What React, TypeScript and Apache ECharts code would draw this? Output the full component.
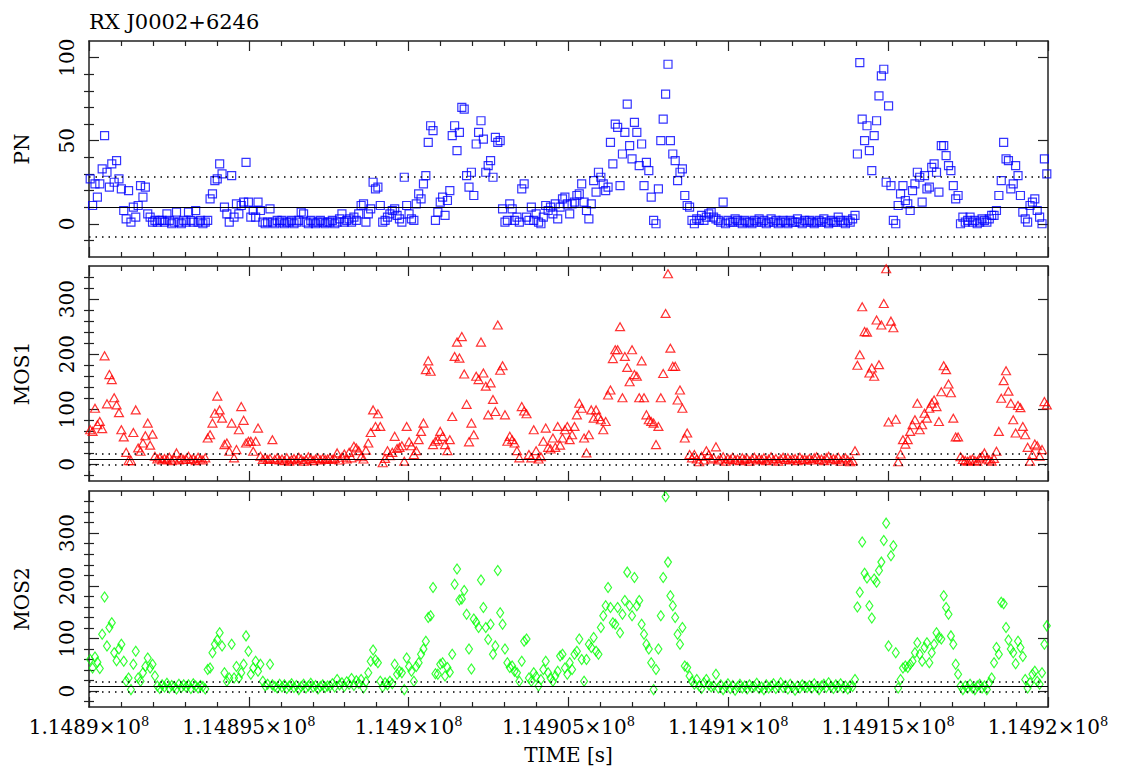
import React, { useEffect, useRef } from 'react';
import * as echarts from 'echarts';

const TITLE = 'RX J0002+6246';
const X_NAME = 'TIME [s]';
const BIN_SECONDS = 75;
const T_SPAN = 30000;
const X_INTERVAL = 5000;
const xTickLabels = ['1.1489', '1.14895', '1.149', '1.14905', '1.1491', '1.14915', '1.1492'];
const X_EXPONENT = '8';

const panelNames = ['PN', 'MOS1', 'MOS2'];
const colors = ['#0000ff', '#ff0000', '#00ff00'];
const yMins = [-20, -30, -30];
const yMaxs = [110, 360, 380];
const yMajorTicks = [
  [0, 50, 100],
  [0, 100, 200, 300],
  [0, 100, 200, 300],
];
const yMinorTicks = [
  [-10, 10, 20, 30, 40, 60, 70, 80, 90],
  [-20, 20, 40, 60, 80, 120, 140, 160, 180, 220, 240, 260, 280, 320, 340],
  [-20, 20, 40, 60, 80, 120, 140, 160, 180, 220, 240, 260, 280, 320, 340, 360],
];
// mean, upper, lower reference levels
const pnLevels = [10, 28, -8];
const mos1Levels = [10, 20, 0];
const mos2Levels = [8.5, 18.5, -1.5];

const pnRate = [
  27, 11, 24, 16, 24, 33, 53, 31, 22, 36, 25, 38, 27, 21, 8, 3, 20, 1, 10, 4,
  11, 23, 16, 22, 6, 4, 1, 2, 1, 2, 2, 1, 6, 2, 0, 1, 7, 1, 0, 2,
  1, 7, 2, 1, 8, 1, 2, 0, 1, 2, 15, 18, 26, 27, 36, 30, 10, 6, 1, 29,
  4, 12, 6, 11, 13, 37, 13, 4, 8, 4, 13, 8, 1, 0, 1, 9, 1, 0, 2, 1,
  2, 0, 1, 1, 2, 0, 1, 2, 7, 6, 1, 0, 2, 1, 0, 1, 2, 1, 0, 1,
  1, 2, 0, 1, 3, 6, 1, 2, 3, 1, 4, 2, 6, 11, 12, 1, 6, 9, 25, 21,
  22, 11, 1, 2, 4, 6, 8, 9, 5, 3, 1, 28, 11, 6, 3, 2, 12, 18, 15, 24,
  29, 49, 59, 56, 2, 7, 13, 16, 5, 14, 20, 53, 59, 44, 55, 70, 69, 29, 22, 31,
  17, 48, 55, 62, 51, 31, 35, 38, 28, 52, 49, 50, 9, 1, 2, 12, 9, 2, 4, 1,
  21, 24, 4, 2, 10, 2, 6, 1, 0, 4, 11, 8, 10, 6, 12, 3, 10, 15, 16, 12,
  6, 12, 13, 17, 18, 24, 13, 8, 3, 12, 26, 19, 31, 28, 24, 20, 22, 49, 36, 60,
  58, 23, 42, 55, 72, 47, 39, 61, 55, 35, 48, 23, 37, 32, 16, 2, 0, 21, 50, 63,
  78, 96, 50, 42, 38, 26, 31, 33, 17, 11, 10, 2, 0, 3, 2, 5, 2, 4, 6, 7,
  4, 3, 2, 1, 13, 0, 2, 1, 1, 3, 2, 1, 0, 2, 1, 1, 0, 2, 1, 3,
  1, 2, 0, 1, 3, 1, 2, 0, 1, 2, 1, 0, 2, 1, 1, 3, 1, 0, 2, 1,
  2, 1, 0, 1, 2, 1, 3, 1, 0, 2, 1, 1, 4, 2, 1, 0, 2, 1, 3, 5,
  42, 97, 63, 50, 59, 44, 32, 53, 62, 77, 89, 93, 25, 71, 23, 2, 0, 11, 18, 23,
  14, 12, 8, 20, 24, 31, 28, 13, 29, 21, 22, 34, 36, 31, 19, 47, 47, 41, 35, 32,
  23, 15, 17, 0, 4, 1, 2, 4, 1, 2, 0, 1, 3, 2, 1, 3, 5, 5, 8, 17,
  26, 49, 39, 38, 21, 24, 35, 29, 17, 7, 3, 1, 11, 13, 15, 8, 4, 0, 39, 30,
];

const mos1Rate = [
  63, 60, 102, 72, 78, 65, 197, 110, 163, 154, 121, 108, 94, 63, 50, 22, 7, 7, 58, 99,
  30, 24, 39, 52, 75, 35, 55, 15, 10, 12, 8, 11, 9, 13, 7, 10, 21, 8, 12, 9,
  10, 15, 9, 11, 7, 13, 10, 8, 12, 48, 54, 75, 93, 124, 99, 84, 36, 39, 24, 75,
  12, 27, 63, 105, 80, 39, 42, 42, 24, 42, 66, 15, 9, 12, 9, 11, 45, 9, 12, 8,
  10, 7, 12, 6, 9, 11, 8, 13, 10, 6, 9, 14, 11, 7, 10, 12, 8, 11, 9, 10,
  12, 9, 11, 21, 8, 13, 19, 10, 22, 12, 33, 30, 25, 14, 10, 26, 39, 58, 99, 69,
  92, 69, 3, 11, 25, 16, 22, 51, 29, 31, 34, 6, 69, 41, 34, 18, 25, 45, 60, 75,
  172, 188, 169, 36, 42, 45, 60, 51, 36, 25, 45, 87, 196, 222, 193, 232, 164, 109, 41, 75,
  54, 160, 154, 222, 166, 142, 90, 148, 118, 96, 253, 171, 179, 90, 42, 51, 45, 39, 25, 12,
  105, 97, 92, 18, 12, 63, 25, 10, 14, 42, 66, 31, 28, 48, 31, 69, 35, 48, 63, 69,
  45, 54, 69, 90, 111, 102, 48, 21, 54, 99, 84, 99, 87, 81, 63, 78, 126, 135, 192, 208,
  208, 250, 121, 196, 176, 150, 208, 163, 160, 121, 188, 121, 90, 81, 78, 75, 36, 69, 121, 165,
  274, 346, 211, 178, 178, 117, 135, 102, 48, 57, 18, 12, 18, 10, 5, 15, 8, 25, 18, 10,
  12, 32, 8, 10, 14, 6, 11, 9, 13, 8, 10, 7, 12, 9, 11, 6, 10, 13, 8, 11,
  9, 12, 7, 10, 14, 8, 11, 6, 10, 13, 9, 12, 8, 10, 11, 7, 13, 9, 10, 8,
  11, 8, 12, 14, 9, 10, 7, 12, 15, 8, 11, 9, 13, 6, 10, 12, 8, 5, 7, 25,
  180, 199, 286, 241, 240, 166, 175, 160, 262, 181, 253, 292, 355, 77, 260, 248, 82, 5, 19, 45,
  37, 45, 60, 72, 81, 111, 63, 72, 93, 84, 102, 111, 117, 105, 78, 132, 179, 172, 146, 130,
  84, 50, 50, 14, 9, 7, 6, 8, 10, 7, 6, 12, 15, 21, 10, 8, 6, 11, 24, 60,
  120, 152, 170, 133, 111, 81, 57, 107, 103, 69, 54, 31, 6, 18, 37, 34, 15, 27, 114, 108,
];

const mos2Rate = [
  60, 44, 65, 55, 43, 108, 179, 86, 121, 130, 73, 58, 80, 89, 57, 19, 25, 3, 51, 76,
  25, 19, 35, 47, 63, 44, 51, 29, 10, 5, 12, 8, 15, 6, 11, 9, 4, 13, 7, 12,
  8, 12, 5, 14, 10, 6, 11, 9, 4, 41, 44, 73, 89, 97, 111, 86, 35, 19, 25, 89,
  25, 47, 25, 35, 51, 105, 76, 32, 44, 57, 38, 51, 19, 10, 13, 51, 12, 9, 6, 13,
  8, 12, 5, 10, 14, 7, 11, 3, 9, 13, 6, 10, 15, 8, 11, 4, 9, 12, 7, 10,
  10, 14, 8, 22, 12, 16, 9, 18, 13, 24, 11, 20, 15, 22, 6, 18, 35, 57, 78, 59,
  54, 19, 8, 16, 12, 19, 14, 51, 32, 38, 35, 3, 63, 47, 38, 19, 47, 54, 70, 80,
  95, 140, 143, 197, 33, 32, 51, 54, 29, 45, 36, 70, 203, 232, 173, 175, 191, 146, 80, 42,
  137, 131, 121, 211, 159, 121, 98, 127, 70, 86, 229, 149, 127, 80, 54, 45, 48, 38, 35, 19,
  57, 95, 99, 25, 19, 35, 28, 10, 22, 41, 57, 35, 25, 19, 29, 38, 67, 70, 44, 32,
  54, 41, 70, 76, 99, 60, 19, 60, 89, 83, 102, 76, 70, 121, 143, 162, 197, 159, 130, 127,
  159, 111, 146, 172, 226, 162, 143, 216, 162, 172, 127, 108, 89, 80, 54, 3, 41, 80, 143, 216,
  369, 245, 181, 162, 140, 108, 89, 121, 48, 45, 29, 19, 13, 22, 10, 5, 16, 22, 12, 8,
  10, 32, 6, 12, 3, 9, 14, 5, 11, 2, 8, 13, 6, 10, 4, 12, 7, 9, 15, 5,
  8, 3, 12, 6, 10, 14, 5, 9, 16, 7, 11, 4, 13, 8, 2, 10, 6, 12, 9, 7,
  11, 6, 14, 8, 3, 10, 13, 7, 16, 9, 5, 12, 8, 14, 6, 10, 4, 11, 9, 22,
  160, 188, 283, 224, 215, 162, 139, 213, 207, 229, 245, 286, 319, 86, 257, 276, 73, 6, 22, 44,
  48, 45, 51, 57, 73, 92, 70, 57, 83, 92, 54, 73, 89, 111, 102, 99, 181, 159, 146, 105,
  89, 51, 32, 10, 3, 10, 6, 13, 6, 3, 10, 13, 6, 10, 3, 16, 25, 54, 83, 70,
  169, 166, 121, 97, 80, 73, 52, 95, 83, 66, 22, 6, 16, 32, 38, 19, 13, 35, 89, 124,
];

const FONT = "'DejaVu Serif', serif";
const INK = '#222';

function buildOption() {
  const rates = [pnRate, mos1Rate, mos2Rate];
  const levels = [pnLevels, mos1Levels, mos2Levels];
  const symbols = ['rect', 'triangle', 'diamond'];
  const symbolSizes: any[] = [8, [9, 8], [7, 10]];
  const grids = [
    { left: 89, top: 41, width: 959, height: 216 },
    { left: 89, top: 266, width: 959, height: 215 },
    { left: 89, top: 491, width: 959, height: 216 },
  ];
  const xAxes: any[] = [];
  const yAxes: any[] = [];
  const series: any[] = [];
  grids.forEach((_, p) => {
    const last = p === grids.length - 1;
    ['bottom', 'top'].forEach((pos) => {
      const showLab = last && pos === 'bottom';
      xAxes.push({
        type: 'value',
        gridIndex: p,
        position: pos,
        min: 0,
        max: T_SPAN,
        interval: X_INTERVAL,
        axisLine: { show: true, onZero: false, lineStyle: { color: INK, width: 1.5 } },
        axisTick: { show: true, inside: true, length: 10, lineStyle: { color: INK, width: 1.2 } },
        minorTick: { show: true, splitNumber: 5, length: 5, lineStyle: { color: INK, width: 1.2 } },
        splitLine: { show: false },
        minorSplitLine: { show: false },
        axisLabel: showLab
          ? {
              show: true,
              margin: 8,
              showMinLabel: true,
              showMaxLabel: true,
              formatter: (v: number) => {
                const lab = xTickLabels[Math.round(v / X_INTERVAL)];
                return `{m|${lab}×10}{s|${X_EXPONENT}}`;
              },
              rich: {
                m: { fontSize: 20, fontFamily: FONT, color: '#000', lineHeight: 24 },
                s: { fontSize: 13, fontFamily: FONT, color: '#000', verticalAlign: 'top', lineHeight: 14 },
              },
            }
          : { show: false },
        name: showLab ? X_NAME : '',
        nameLocation: 'middle',
        nameGap: 38,
        nameTextStyle: { fontFamily: FONT, fontSize: 20, color: '#000' },
      });
    });
    const base = {
      type: 'value',
      gridIndex: p,
      min: yMins[p],
      max: yMaxs[p],
      splitLine: { show: false },
    };
    yAxes.push({
      ...base,
      position: 'left',
      axisLine: { show: true, onZero: false, lineStyle: { color: INK, width: 1.5 } },
      axisTick: { show: true, inside: true, length: 10, customValues: yMajorTicks[p], lineStyle: { color: INK, width: 1.2 } },
      axisLabel: {
        show: true,
        customValues: yMajorTicks[p],
        rotate: 90,
        margin: 12,
        fontSize: 20,
        fontFamily: FONT,
        color: '#000',
      },
      name: panelNames[p],
      nameLocation: 'middle',
      nameRotate: 90,
      nameGap: 57,
      nameTextStyle: { fontFamily: FONT, fontSize: 20, color: '#000' },
    });
    yAxes.push({
      ...base,
      position: 'left',
      axisLine: { show: false },
      axisTick: { show: true, inside: true, length: 5, customValues: yMinorTicks[p], lineStyle: { color: INK, width: 1.2 } },
      axisLabel: { show: false },
    });
    yAxes.push({
      ...base,
      position: 'right',
      axisLine: { show: true, onZero: false, lineStyle: { color: INK, width: 1.5 } },
      axisTick: { show: true, inside: true, length: 10, customValues: yMajorTicks[p], lineStyle: { color: INK, width: 1.2 } },
      axisLabel: { show: false },
    });
    yAxes.push({
      ...base,
      position: 'right',
      axisLine: { show: false },
      axisTick: { show: true, inside: true, length: 5, customValues: yMinorTicks[p], lineStyle: { color: INK, width: 1.2 } },
      axisLabel: { show: false },
    });

    const lv = levels[p];
    series.push({
      type: 'scatter',
      xAxisIndex: p * 2,
      yAxisIndex: p * 4,
      data: rates[p].map((v, i) => [(i + 0.5) * BIN_SECONDS, v]),
      symbol: symbols[p],
      symbolSize: symbolSizes[p],
      itemStyle: { color: 'rgba(0,0,0,0)', borderColor: colors[p], borderWidth: 1.2 },
      silent: true,
      markLine: {
        silent: true,
        symbol: 'none',
        label: { show: false },
        data: [
          { yAxis: lv[0], lineStyle: { type: 'solid', color: '#000', width: 1 } },
          { yAxis: lv[1], lineStyle: { type: [1.5, 5], color: '#000', width: 1.5 } },
          { yAxis: lv[2], lineStyle: { type: [1.5, 5], color: '#000', width: 1.5 } },
        ],
      },
    });
  });

  return {
    animation: false,
    backgroundColor: '#fff',
    title: {
      text: TITLE,
      left: 84,
      top: 6,
      textStyle: { fontFamily: FONT, fontSize: 21, fontWeight: 'normal', color: '#000' },
    },
    grid: grids,
    xAxis: xAxes,
    yAxis: yAxes,
    series,
  };
}

export default function App() {
  const ref = useRef<HTMLDivElement>(null);
  useEffect(() => {
    if (!ref.current) return;
    const chart = echarts.init(ref.current, undefined, { renderer: 'svg' });
    chart.setOption(buildOption() as any);
    return () => chart.dispose();
  }, []);
  return (
    <div
      ref={ref}
      style={{ position: 'absolute', left: 0, top: 0, width: 1125, height: 774, background: '#fff' }}
    />
  );
}
